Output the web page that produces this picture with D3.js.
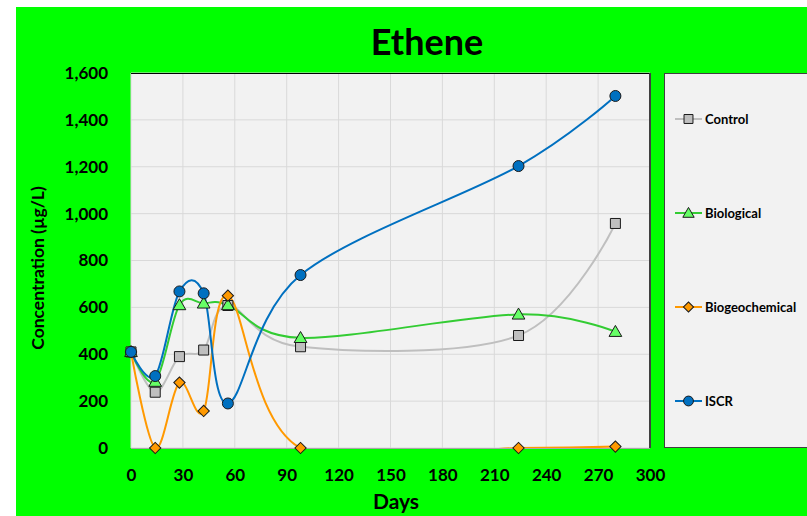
<!DOCTYPE html>
<html><head><meta charset="utf-8">
<script src="https://cdn.jsdelivr.net/npm/d3@7"></script>
<style>
html,body{margin:0;padding:0;background:#fff;}
svg{display:block;font-family:Lato,"Open Sans",sans-serif;font-weight:bold;}
</style></head>
<body>
<svg id="chart" width="807" height="516"></svg>
<script>
const days = [0, 14, 28, 42, 56, 98, 224, 280];
const control = [410, 238, 390, 418, 608, 432, 480, 958];
const biological = [410, 283, 610, 617, 610, 470, 570, 496];
const biogeochemical = [410, 0, 279, 158, 650, 0, 0, 6];
const iscr = [410, 307, 668, 660, 190, 738, 1203, 1502];
const seriesNames = ["Control", "Biological", "Biogeochemical", "ISCR"];
const xTicks = [0, 30, 60, 90, 120, 150, 180, 210, 240, 270, 300];
const yTicks = [0, 200, 400, 600, 800, 1000, 1200, 1400, 1600];

const styles = {
  "Control": {line: "#bfbfbf", fill: "#bfbfbf", shape: d3.symbolSquare, size: 100, rot: 0},
  "Biological": {line: "#33cc33", fill: "#66ff66", shape: d3.symbolTriangle, size: 70, rot: 0},
  "Biogeochemical": {line: "#ff9900", fill: "#ff9900", shape: d3.symbolSquare, size: 64, rot: 45},
  "ISCR": {line: "#0070c0", fill: "#0070c0", shape: d3.symbolCircle, size: 95, rot: 0}
};
const seriesValues = [control, biological, biogeochemical, iscr];

const svg = d3.select("#chart");
const W = 807, H = 516;
const plot = {l: 131, r: 650, t: 73, b: 448};

svg.append("rect").attr("x", 16).attr("y", 7).attr("width", W - 16).attr("height", H - 7).attr("fill", "#00ff00");

const x = d3.scaleLinear().domain([0, 300]).range([plot.l, plot.r]);
const y = d3.scaleLinear().domain([0, 1600]).range([plot.b, plot.t]);

// title
svg.append("text").attr("x", 427).attr("y", 55).attr("text-anchor", "middle")
  .attr("font-size", 36).attr("font-weight", "bold").text("Ethene");

// plot area
svg.append("rect").attr("x", plot.l).attr("y", plot.t).attr("width", plot.r - plot.l).attr("height", plot.b - plot.t).attr("fill", "#f2f2f2");

// gridlines
const grid = svg.append("g");
grid.selectAll("line.v").data(xTicks).join("line").attr("class", "v")
  .attr("x1", d => x(d)).attr("x2", d => x(d)).attr("y1", plot.t).attr("y2", plot.b)
  .attr("stroke", "#d9d9d9").attr("stroke-width", 1);
grid.selectAll("line.h").data(yTicks).join("line").attr("class", "h")
  .attr("x1", plot.l).attr("x2", plot.r).attr("y1", d => y(d)).attr("y2", d => y(d))
  .attr("stroke", "#d9d9d9").attr("stroke-width", 1);

// borders
svg.append("line").attr("x1", plot.l).attr("x2", plot.r).attr("y1", plot.t + 0.5).attr("y2", plot.t + 0.5).attr("stroke", "#000").attr("stroke-width", 1);
svg.append("line").attr("x1", plot.r).attr("x2", plot.r).attr("y1", plot.t).attr("y2", plot.b).attr("stroke", "#404040").attr("stroke-width", 2);
svg.append("line").attr("x1", plot.l).attr("x2", plot.r).attr("y1", plot.b + 0.5).attr("y2", plot.b + 0.5).attr("stroke", "#a6a6a6").attr("stroke-width", 1);

// axes
const xAxis = svg.append("g").attr("transform", `translate(0,${plot.b + 18})`)
  .call(d3.axisBottom(x).tickValues(xTicks).tickSize(0).tickFormat(d3.format("d")));
xAxis.select(".domain").remove();
xAxis.selectAll("text").attr("font-size", 17).attr("font-weight", "bold").attr("fill", "#000").attr("font-family", "Lato,sans-serif");

const yAxis = svg.append("g").attr("transform", `translate(${plot.l - 20},0)`)
  .call(d3.axisLeft(y).tickValues(yTicks).tickSize(0).tickFormat(d3.format(",")));
yAxis.select(".domain").remove();
yAxis.selectAll("text").attr("font-size", 17).attr("font-weight", "bold").attr("fill", "#000").attr("font-family", "Lato,sans-serif");

// axis titles
svg.append("text").attr("x", 396).attr("y", 509).attr("text-anchor", "middle")
  .attr("font-size", 21).attr("font-weight", "bold").text("Days");
svg.append("text").attr("transform", "translate(44,268) rotate(-90)").attr("text-anchor", "middle")
  .attr("font-size", 17.5).attr("font-weight", "bold").text("Concentration (µg/L)");

// clip
svg.append("clipPath").attr("id", "clip").append("rect")
  .attr("x", plot.l).attr("y", plot.t).attr("width", plot.r - plot.l).attr("height", plot.b - plot.t);

const line = d3.line().x(d => x(d[0])).y(d => y(d[1])).curve(d3.curveCardinal.tension(0));

const linesG = svg.append("g").attr("clip-path", "url(#clip)");
seriesNames.forEach((name, i) => {
  const pts = days.map((d, j) => [d, seriesValues[i][j]]);
  linesG.append("path").datum(pts).attr("d", line).attr("fill", "none")
    .attr("stroke", styles[name].line).attr("stroke-width", 2);
});
seriesNames.forEach((name, i) => {
  const pts = days.map((d, j) => [d, seriesValues[i][j]]);
  const st = styles[name];
  svg.append("g").selectAll("path").data(pts).join("path")
    .attr("transform", d => `translate(${x(d[0])},${y(d[1]) + (name === "Biological" ? 1 : 0)}) rotate(${st.rot})`)
    .attr("d", d3.symbol().type(st.shape).size(st.size))
    .attr("fill", st.fill).attr("stroke", "#1a1a1a").attr("stroke-width", 1);
});

// legend
svg.append("rect").attr("x", 664.5).attr("y", 73.5).attr("width", 150).attr("height", 374)
  .attr("fill", "#f2f2f2").attr("stroke", "#404040").attr("stroke-width", 1);
const legY = [119, 213, 307, 401];
seriesNames.forEach((name, i) => {
  const st = styles[name];
  const g = svg.append("g").attr("transform", `translate(0,${legY[i]})`);
  g.append("line").attr("x1", 675).attr("x2", 702).attr("y1", 0).attr("y2", 0)
    .attr("stroke", st.line).attr("stroke-width", 2);
  g.append("path").attr("transform", `translate(688.5,${name === "Biological" ? 1 : 0}) rotate(${st.rot})`)
    .attr("d", d3.symbol().type(st.shape).size(st.size * 0.8))
    .attr("fill", st.fill).attr("stroke", "#1a1a1a").attr("stroke-width", 1);
  g.append("text").attr("x", 705).attr("y", 5).attr("font-size", 13).attr("font-weight", "bold").text(name);
});
</script>
</body></html>
